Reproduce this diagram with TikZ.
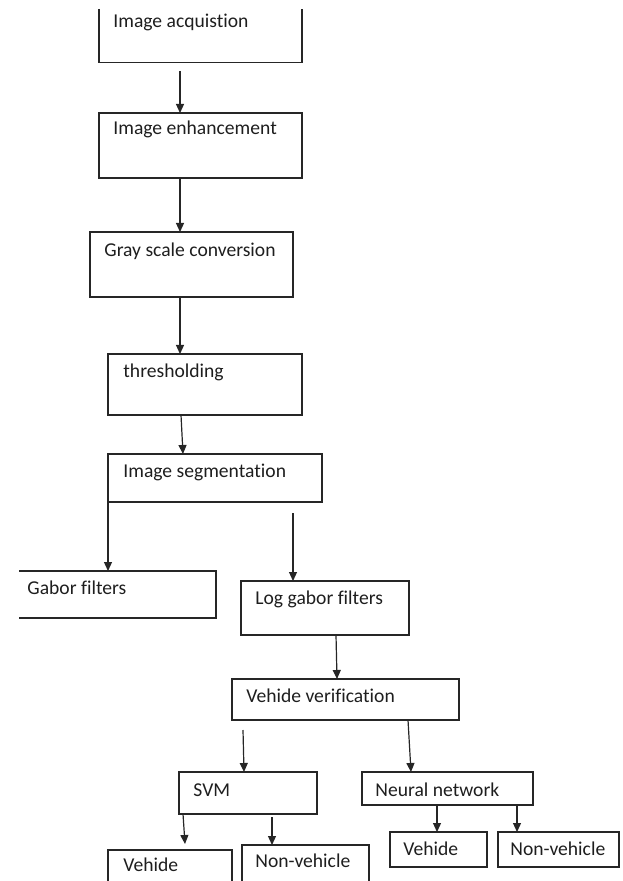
\documentclass[tikz,border=0pt]{standalone}
\usepackage{fontspec}
\setmainfont{Carlito}[Ligatures=NoCommon]
\usetikzlibrary{arrows.meta,fit}
\definecolor{ln}{HTML}{262626}
\definecolor{tx}{HTML}{1E1E1E}
\begin{document}
\begin{tikzpicture}[x=0.5pt,y=-0.5pt,
  frame/.style={inner sep=0pt,outer sep=0pt},
  boxd/.style={frame,draw=ln,line width=0.7pt},
  edge/.style={draw=ln,line width=0.7pt},
  lbl/.style={anchor=base west,inner sep=0pt,text=tx,font=\fontsize{9.8}{11}\selectfont},
  arr/.style={draw=ln,line width=0.6pt,-{Triangle[width=4pt,length=4.5pt]}}]
\useasboundingbox (0,0) rectangle (622,881);
% boxes
\node[frame,fit={(99,9)(302,62.7)}] (b1) {};
\draw[edge] (b1.north west) -- (b1.south west) -- (b1.south east) -- (b1.north east);
\node[boxd,fit={(99,113)(302,178)}] (b2) {};
\node[boxd,fit={(90,232)(293,297)}] (b3) {};
\node[boxd,fit={(108,354)(302,415)}] (b4) {};
\node[boxd,fit={(108,454)(322,502)}] (b5) {};
\node[frame,fit={(19,571)(216,618)}] (b6) {};
\draw[edge] (b6.north west) -- (b6.north east) -- (b6.south east) -- (b6.south west);
\node[boxd,fit={(241,581)(409,635)}] (b7) {};
\node[boxd,fit={(232,679)(459,720)}] (b8) {};
\node[boxd,fit={(179,772)(317,814)}] (b9) {};
\node[boxd,fit={(362,772)(533,805)}] (b10) {};
\node[frame,fit={(108,850)(232,881)}] (b11) {};
\draw[edge] (b11.south west) -- (b11.north west) -- (b11.north east) -- (b11.south east);
\node[frame,fit={(242,845)(369,881)}] (b12) {};
\draw[edge] (b12.south west) -- (b12.north west) -- (b12.north east) -- (b12.south east);
\node[boxd,fit={(390,832)(487,867)}] (b13) {};
\node[boxd,fit={(498,832)(619,867)}] (b14) {};
% labels
\node[lbl] (t1) at (113,28) {Image acquistion};
\node[lbl] (t2) at (113,135) {Image enhancement};
\node[lbl] (t3) at (104,257) {Gray scale conversion};
\node[lbl] (t4) at (123,377) {thresholding};
\node[lbl] (t5) at (123,477) {Image segmentation};
\node[lbl] (t6) at (27,594) {Gabor filters};
\node[lbl] (t7) at (255,604) {Log gabor filters};
\node[lbl] (t8) at (246,702) {Vehide verification};
\node[lbl] (t9) at (193,796) {SVM};
\node[lbl] (t10) at (375,796) {Neural network};
\node[lbl] (t11) at (123,871) {Vehide};
\node[lbl] (t12) at (255,867) {Non-vehicle};
\node[lbl] (t13) at (403,855) {Vehide};
\node[lbl] (t14) at (510,855) {Non-vehicle};
% connector end points
\coordinate (s1) at (180,71);
\coordinate (s2) at (180,178);
\coordinate (s3) at (180,297);
\coordinate (s4) at (181,415);
\coordinate (e4) at (183,454);
\coordinate (s5) at (108,502);
\coordinate (s6) at (293,513);
\coordinate (s7) at (336,635);
\coordinate (e7) at (337,679);
\coordinate (s8) at (243,730);
\coordinate (e8) at (244,772);
\coordinate (s9) at (408,720);
\coordinate (e9) at (411,772);
\coordinate (s10) at (183,814);
\coordinate (e10) at (185,844);
\coordinate (s11) at (272,817);
\coordinate (s12) at (437,805);
\coordinate (s13) at (517,805);
% connectors
\draw[arr] (s1) -- (s1 |- b2.north);
\draw[arr] (s2) -- (s2 |- b3.north);
\draw[arr] (s3) -- (s3 |- b4.north);
\draw[arr] (s4) -- (e4);
\draw[arr] (s5) -- (s5 |- b6.north);
\draw[arr] (s6) -- (s6 |- b7.north);
\draw[arr] (s7) -- (e7);
\draw[arr] (s8) -- (e8);
\draw[arr] (s9) -- (e9);
\draw[arr] (s10) -- (e10);
\draw[arr] (s11) -- (s11 |- b12.north);
\draw[arr] (s12) -- (s12 |- b13.north);
\draw[arr] (s13) -- (s13 |- b14.north);
\end{tikzpicture}
\end{document}
